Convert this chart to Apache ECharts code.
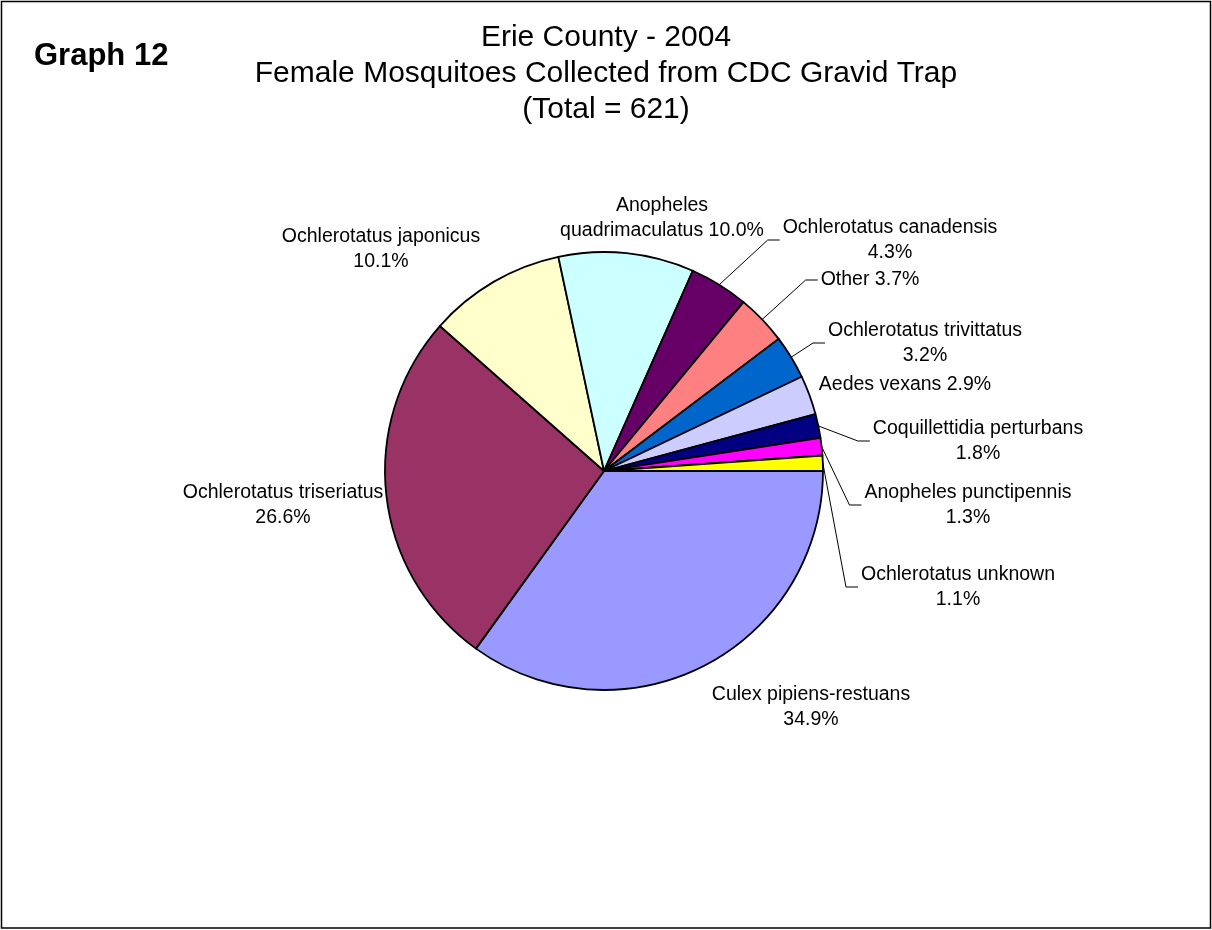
<!DOCTYPE html>
<html>
<head>
<meta charset="utf-8">
<title>Erie County - 2004</title>
<script src="https://cdn.jsdelivr.net/npm/echarts@6/dist/echarts.min.js"></script>
<style>
  html, body { margin: 0; padding: 0; background: #fff; }
  #chart { width: 1212px; height: 930px; }
</style>
</head>
<body>
<div id="chart"></div>
<script>
// Species collected (clockwise from 3 o'clock) and their counts
const species = [
  'Culex pipiens-restuans',
  'Ochlerotatus triseriatus',
  'Ochlerotatus japonicus',
  'Anopheles quadrimaculatus',
  'Ochlerotatus canadensis',
  'Other',
  'Ochlerotatus trivittatus',
  'Aedes vexans',
  'Coquillettidia perturbans',
  'Anopheles punctipennis',
  'Ochlerotatus unknown'
];
const counts = [217, 165, 63, 62, 27, 23, 20, 18, 11, 8, 7];
const sliceColors = [
  '#9999FF', '#993366', '#FFFFCC', '#CCFFFF', '#660066', '#FF8080',
  '#0066CC', '#CCCCFF', '#000080', '#FF00FF', '#FFFF00'
];

const total = counts.reduce((a, b) => a + b, 0);

// Label placement: centre of each label block, line style and leader line
const labelPlacement = [
  { x: 811, y: 707, wrap: 'name', line: false },
  { x: 283, y: 505, wrap: 'name', line: false },
  { x: 381, y: 249, wrap: 'name', line: false },
  { x: 662, y: 218, wrap: 'first', line: false },
  { x: 890, y: 240, wrap: 'name', line: true },
  { x: 870, y: 280, wrap: 'none', line: true },
  { x: 925, y: 343, wrap: 'name', line: true },
  { x: 905, y: 385, wrap: 'none', line: false },
  { x: 978, y: 441, wrap: 'name', line: true },
  { x: 968, y: 505, wrap: 'name', line: true },
  { x: 958, y: 587, wrap: 'name', line: true }
];

function labelText(i) {
  const pct = (counts[i] / total * 100).toFixed(1) + '%';
  const name = species[i];
  const mode = labelPlacement[i].wrap;
  if (mode === 'none') return name + ' ' + pct;
  if (mode === 'first') return name.replace(' ', '\n') + ' ' + pct;
  return name + '\n' + pct;
}

const chart = echarts.init(document.getElementById('chart'), null, { renderer: 'canvas' });

const FONT = '"Liberation Sans", Arial, sans-serif';

chart.setOption({
  backgroundColor: '#ffffff',
  animation: false,
  title: [
    {
      text: 'Erie County - 2004\nFemale Mosquitoes Collected from CDC Gravid Trap\n(Total = ' + total + ')',
      left: 606,
      top: 20,
      padding: 0,
      textAlign: 'center',
      textStyle: {
        fontFamily: FONT,
        fontSize: 30,
        fontWeight: 'normal',
        color: '#000',
        lineHeight: 36
      }
    },
    {
      text: 'Graph 12',
      left: 34,
      top: 39,
      padding: 0,
      textStyle: {
        fontFamily: FONT,
        fontSize: 31,
        fontWeight: 'bold',
        color: '#000',
        lineHeight: 34
      }
    }
  ],
  graphic: [
    {
      type: 'rect',
      shape: { x: 1.5, y: 1.5, width: 1209, height: 926.5 },
      style: { fill: 'none', stroke: '#000', lineWidth: 1.5 },
      silent: true
    }
  ],
  series: [
    {
      type: 'pie',
      center: [604, 471],
      radius: 219,
      startAngle: 0,
      clockwise: true,
      avoidLabelOverlap: false,
      minShowLabelAngle: 0,
      itemStyle: { borderColor: '#000', borderWidth: 1.8 },
      label: {
        show: true,
        position: 'outside',
        fontFamily: FONT,
        fontSize: 19.5,
        color: '#000',
        lineHeight: 25.5,
        padding: [0, 3],
        formatter: p => labelText(p.dataIndex)
      },
      labelLine: {
        show: true,
        length: 10,
        length2: 12,
        minTurnAngle: 0,
        lineStyle: { color: '#000', width: 1 }
      },
      labelLayout: p => {
        const lp = labelPlacement[p.dataIndex];
        return { x: lp.x, y: lp.y, align: 'center', verticalAlign: 'middle' };
      },
      emphasis: { disabled: true },
      data: species.map((name, i) => ({
        name: name,
        value: counts[i],
        itemStyle: { color: sliceColors[i] },
        labelLine: { show: labelPlacement[i].line }
      }))
    }
  ]
});
</script>
</body>
</html>
